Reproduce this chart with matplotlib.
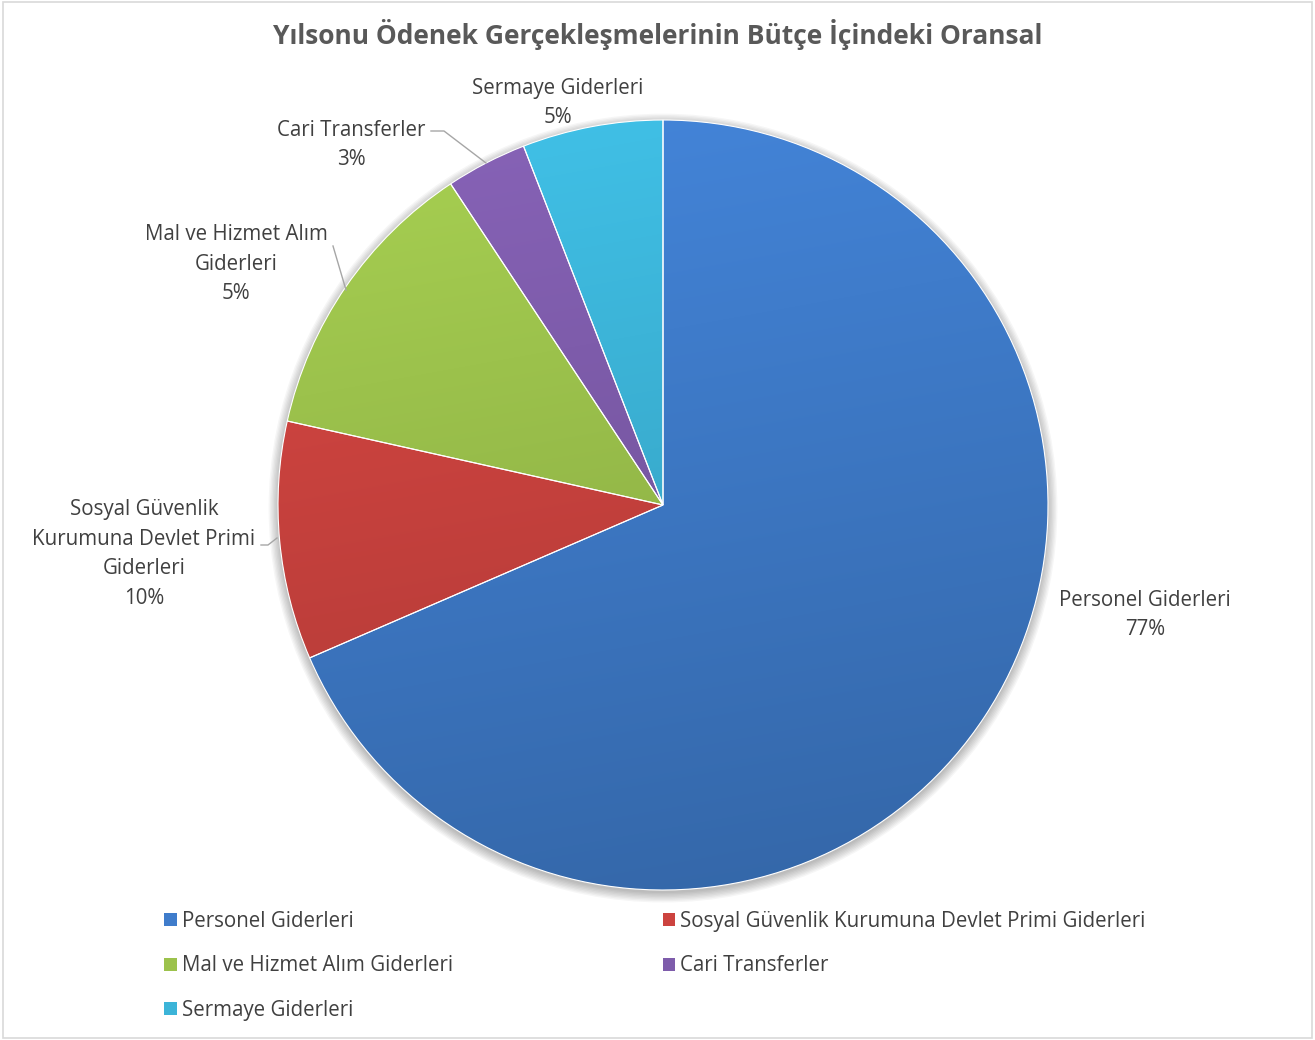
import numpy as np
import matplotlib
matplotlib.use("Agg")
import matplotlib.pyplot as plt
from matplotlib.patches import Patch, Rectangle, Circle
from matplotlib.colors import to_rgb

# ---- data ----
categories = ["Personel Giderleri",
              "Sosyal Güvenlik Kurumuna Devlet Primi Giderleri",
              "Mal ve Hizmet Alım Giderleri",
              "Cari Transferler",
              "Sermaye Giderleri"]
values = [68.5, 10.0, 12.2, 3.4, 5.9]          # slice sizes as drawn
shown_pct = ["77%", "10%", "5%", "3%", "5%"]      # percentages printed on the chart
label_text = ["Personel Giderleri",
              "Sosyal Güvenlik\nKurumuna Devlet Primi\nGiderleri",
              "Mal ve Hizmet Alım\nGiderleri",
              "Cari Transferler",
              "Sermaye Giderleri"]
colors = ["#3F7CCB", "#CC433F", "#9CC24C", "#7E5CAB", "#3CB4D8"]
title = "Yılsonu Ödenek Gerçekleşmelerinin Bütçe İçindeki Oransal"

W, H = 1315, 1040
fig = plt.figure(figsize=(W / 100, H / 100), dpi=100)
fig.patch.set_facecolor("white")
FONT = ["Open Sans", "DejaVu Sans"]
TXT = "#404040"
FS = 14.8

# border
fig.add_artist(Rectangle((0.002, 0.002), 0.996, 0.996, transform=fig.transFigure,
                         fill=False, edgecolor="#D9D9D9", lw=1.2))

cx, cy, R = 663, 505, 385
ax = fig.add_axes([(cx - R) / W, (H - cy - R) / H, 2 * R / W, 2 * R / H])
wedges, _ = ax.pie(values, colors=colors, startangle=90, counterclock=False,
                   radius=1, wedgeprops=dict(edgecolor="none", linewidth=0))
ax.set_xlim(-1, 1)
ax.set_ylim(-1, 1)
ax.set_aspect("equal")
ax.axis("off")

# soft drop shadow under the pie
for k in range(8):
    ax.add_patch(Circle((0, -0.008), 1.0 + 0.0035 * k, facecolor="#000000",
                        alpha=0.035, edgecolor="none", zorder=1, clip_on=False))

# gradient shading clipped to each wedge
n = 400
yy, xx = np.mgrid[1:-1:n * 1j, -1:1:n * 1j]
shade = 1.08 - 0.22 * (1 - yy) / 2 - 0.04 * (xx + 1) / 2
for w, c in zip(wedges, colors):
    rgb = np.array(to_rgb(c))
    img = np.clip(rgb[None, None, :] * shade[:, :, None], 0, 1)
    im = ax.imshow(img, extent=(-1, 1, -1, 1), origin="upper", zorder=2,
                   interpolation="bilinear")
    im.set_clip_path(w)
    w.set_facecolor("none")
    w.set_edgecolor("#FFFFFF")
    w.set_linewidth(0.8)
    w.set_zorder(3)
ax.set_xlim(-1, 1)
ax.set_ylim(-1, 1)

def px(x, y):
    return (x / W, 1 - y / H)

# data labels (positions in pixels of the canvas)
label_pos = [(1145, 615), (144, 554), (236, 264), (351, 145), (558, 103)]
for txt, pct, (x, y) in zip(label_text, shown_pct, label_pos):
    fig.text(*px(x, y), txt + "\n" + pct, ha="center", va="center",
             fontsize=FS, color=TXT, family=FONT, linespacing=1.56)

# leader lines
leaders = [
    [(261, 545), (268, 545), (277, 538)],
    [(333, 246), (346, 290)],
    [(431, 131), (444, 131), (486, 163)],
]
for pts in leaders:
    xs = [p[0] / W for p in pts]
    ys = [1 - p[1] / H for p in pts]
    fig.add_artist(plt.Line2D(xs, ys, transform=fig.transFigure,
                              color="#A6A6A6", lw=1.0))

fig.text(*px(658, 34), title, ha="center", va="center", fontsize=19,
         fontweight="bold", color="#595959", family=FONT)

# legend (row-major order like the original)
handles = [Patch(facecolor=c, edgecolor="none") for c in colors]
order = [0, 2, 4, 1, 3]
leg = fig.legend([handles[i] for i in order], [categories[i] for i in order],
                 ncol=2, loc="upper left", bbox_to_anchor=(0.111, 0.142),
                 frameon=False, handlelength=0.6, handleheight=0.6,
                 handletextpad=0.25, columnspacing=10.2, labelspacing=1.15,
                 prop=dict(family=FONT, size=FS))
for t in leg.get_texts():
    t.set_color(TXT)

fig.savefig("out.png", dpi=100, facecolor="white")
